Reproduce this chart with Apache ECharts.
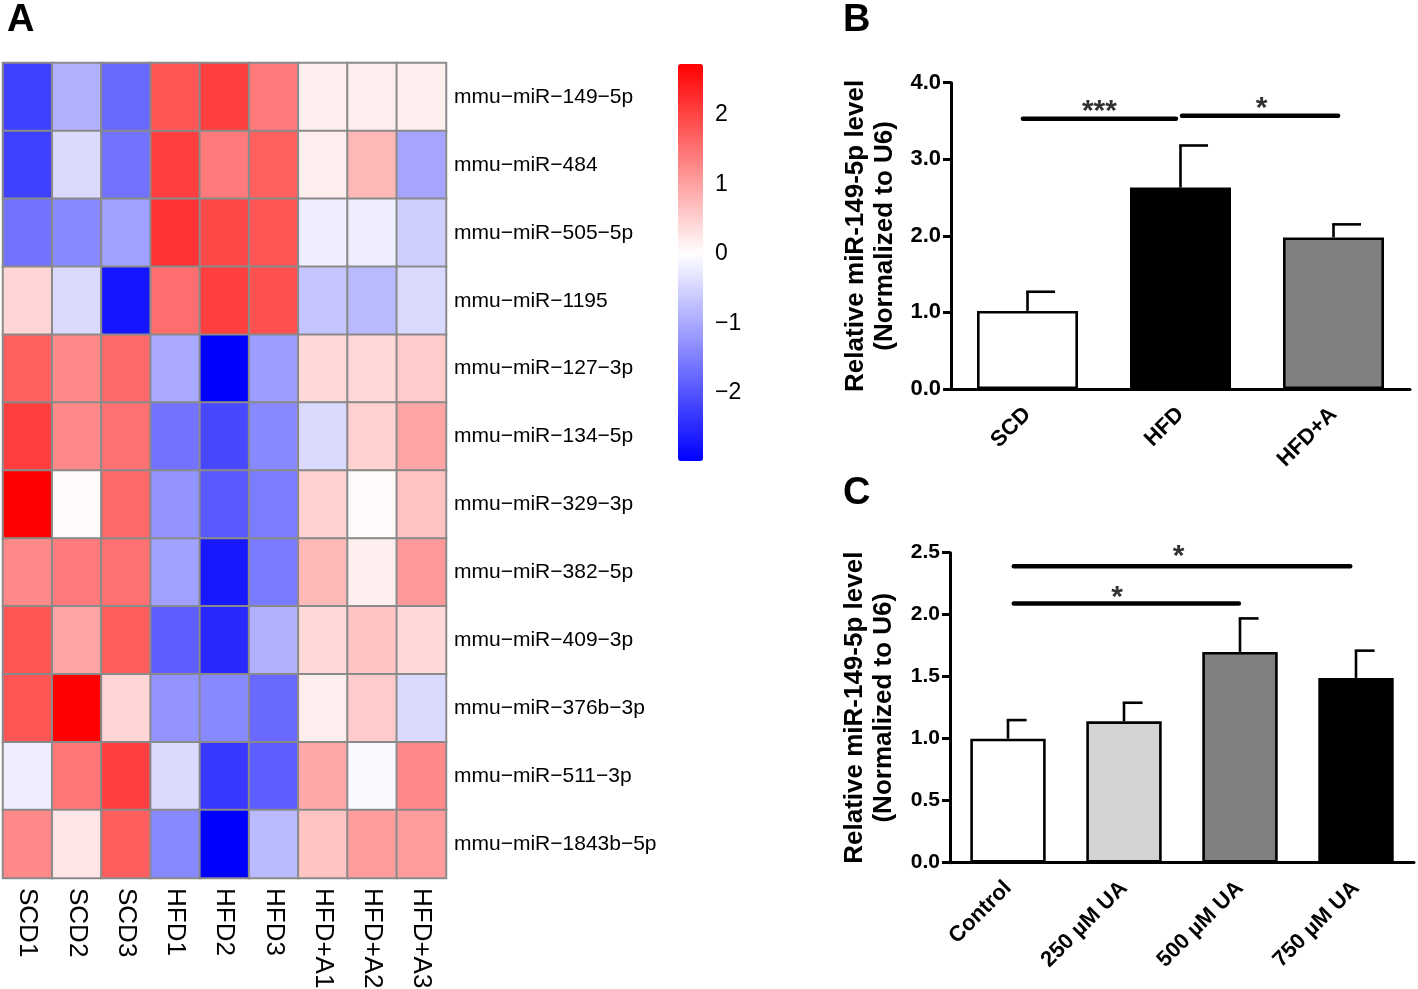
<!DOCTYPE html>
<html>
<head>
<meta charset="utf-8">
<script src="https://cdn.jsdelivr.net/npm/echarts@6/dist/echarts.min.js"></script>
<style>
html,body{margin:0;padding:0;background:#fff;}
#chart{width:1418px;height:989px;}
</style>
</head>
<body>
<div id="chart"></div>
<script>
// ---------- Panel A: heatmap data ----------
const heatCols = ['SCD1','SCD2','SCD3','HFD1','HFD2','HFD3','HFD+A1','HFD+A2','HFD+A3'];
const heatRows = ['mmu\u2212miR\u2212149\u22125p','mmu\u2212miR\u2212484','mmu\u2212miR\u2212505\u22125p','mmu\u2212miR\u22121195',
  'mmu\u2212miR\u2212127\u22123p','mmu\u2212miR\u2212134\u22125p','mmu\u2212miR\u2212329\u22123p','mmu\u2212miR\u2212382\u22125p',
  'mmu\u2212miR\u2212409\u22123p','mmu\u2212miR\u2212376b\u22123p','mmu\u2212miR\u2212511\u22123p','mmu\u2212miR\u22121843b\u22125p'];
const heatValues = [
  [-2.23,-0.92,-1.76, 1.82, 2.05, 1.42, 0.18, 0.18, 0.18],
  [-2.23,-0.43,-1.65, 2.05, 1.42, 1.70, 0.18, 0.76,-1.05],
  [-1.65,-1.39,-1.10, 2.18, 1.96, 1.82,-0.20,-0.20,-0.56],
  [ 0.45,-0.43,-2.73, 1.55, 2.05, 1.87,-0.68,-0.80,-0.43],
  [ 1.70, 1.27, 1.62,-1.01,-2.98,-1.15, 0.42, 0.42, 0.55],
  [ 2.05, 1.27, 1.53,-1.65,-2.14,-1.39,-0.43, 0.49, 0.96],
  [ 2.73, 0.05, 1.62,-1.27,-1.95,-1.53, 0.49, 0.05, 0.65],
  [ 1.27, 1.42, 1.53,-1.10,-2.70,-1.55, 0.76, 0.18, 1.10],
  [ 1.82, 0.96, 1.72,-1.88,-2.51,-0.92, 0.42, 0.63, 0.42],
  [ 1.82, 2.73, 0.45,-1.27,-1.39,-1.76, 0.18, 0.55,-0.43],
  [-0.20, 1.47, 2.05,-0.43,-2.33,-1.88, 0.93,-0.06, 1.27],
  [ 1.27, 0.28, 1.72,-1.39,-2.98,-0.80, 0.65, 1.06, 1.06]
];
const colorMin = -2.98, colorMax = 2.73;
const colorTicks = [-2, -1, 0, 1, 2];

// ---------- Panel B ----------
const bCats = ['SCD', 'HFD', 'HFD+A'];
const bValues = [1.02, 2.63, 1.98];
const bErr = [0.25, 0.55, 0.17];
const bColors = ['#ffffff', '#000000', '#808080'];
const bSigFrom = [-0.03, 1.01];
const bSigTo = [0.97, 2.03];
const bSigY = [3.53, 3.57];
const bSigText = ['***', '*'];
const bSigTextX = [0.47, 1.53];
const bSigTextY = [3.69, 3.73];

// ---------- Panel C ----------
const cCats = ['Control', '250 \u00b5M UA', '500 \u00b5M UA', '750 \u00b5M UA'];
const cValues = [1.00, 1.14, 1.70, 1.49];
const cErr = [0.15, 0.15, 0.27, 0.22];
const cColors = ['#ffffff', '#d3d3d3', '#808080', '#000000'];
const cSigFrom = [0.05, 0.05];
const cSigTo = [2.95, 1.99];
const cSigY = [2.39, 2.09];
const cSigText = ['*', '*'];
const cSigTextX = [1.47, 0.94];
const cSigTextY = [2.51, 2.18];

const FONT = 'Liberation Sans, Arial, Helvetica, sans-serif';

// colour palette for the colour scale (blue - white - red, white at 0)
function buildPalette(n) {
  const out = [];
  for (let i = 0; i < n; i++) {
    const v = colorMin + i * (colorMax - colorMin) / (n - 1);
    let r, g, b;
    if (v >= 0) { const t = v / colorMax; r = 255; g = b = Math.round(255 * (1 - t)); }
    else { const t = v / colorMin; b = 255; r = g = Math.round(255 * (1 - t)); }
    out.push('rgb(' + r + ',' + g + ',' + b + ')');
  }
  return out;
}

const heatData = [];
heatValues.forEach((row, r) => row.forEach((v, c) => heatData.push([c, r, v])));

function errRender(capFrac) {
  return function (params, api) {
    const i = api.value(0);
    const v = api.value(1);
    const e = api.value(2);
    const base = api.coord([i, v]);
    const top = api.coord([i, v + e]);
    const bw = api.size([1, 0])[0];
    return {
      type: 'group',
      children: [
        { type: 'line', shape: { x1: base[0], y1: base[1], x2: top[0], y2: top[1] }, style: { stroke: '#000', lineWidth: 2.6 } },
        { type: 'line', shape: { x1: top[0] - 1.3, y1: top[1], x2: top[0] + capFrac * bw, y2: top[1] }, style: { stroke: '#000', lineWidth: 2.6 } }
      ]
    };
  };
}

function sigRender(from, to, ys, texts, tx, ty, fontSize) {
  return function (params, api) {
    const k = params.dataIndex;
    const c0 = api.coord([0, 0]);
    const bw = api.size([1, 0])[0];
    const px = x => c0[0] + x * bw;
    const y = api.coord([0, ys[k]])[1];
    const yt = api.coord([0, ty[k]])[1];
    return {
      type: 'group',
      children: [
        { type: 'line', shape: { x1: px(from[k]), y1: y, x2: px(to[k]), y2: y }, style: { stroke: '#000', lineWidth: 4.5, lineCap: 'round' } },
        { type: 'text', style: { text: texts[k], x: px(tx[k]), y: yt + 5, align: 'center', verticalAlign: 'middle', fontSize: fontSize, fontWeight: 'bold', fontFamily: FONT, fill: '#333' } }
      ]
    };
  };
}

const axisLineStyle = { color: '#000', width: 3 };
const yTitle = 'Relative miR-149-5p level\n(Normalized to U6)';
const yTitleStyle = { fontSize: 26, fontWeight: 'bold', color: '#000', fontFamily: FONT, lineHeight: 29 };

const chart = echarts.init(document.getElementById('chart'), null, { renderer: 'canvas' });

const option = {
  backgroundColor: '#ffffff',
  animation: false,
  textStyle: { fontFamily: FONT },
  graphic: [
    { type: 'text', left: 7, top: 2, style: { text: 'A', fontSize: 38, fontWeight: 'bold', fontFamily: FONT, fill: '#000' } },
    { type: 'text', left: 843, top: 2, style: { text: 'B', fontSize: 38, fontWeight: 'bold', fontFamily: FONT, fill: '#000' } },
    { type: 'text', left: 843, top: 475, style: { text: 'C', fontSize: 38, fontWeight: 'bold', fontFamily: FONT, fill: '#000' } }
  ],
  visualMap: {
    type: 'continuous',
    min: colorMin,
    max: colorMax,
    seriesIndex: 0,
    calculable: false,
    orient: 'vertical',
    left: 678,
    top: 64,
    itemWidth: 25,
    itemHeight: 397,
    padding: 0,
    text: null,
    showLabel: false,
    hoverLink: false,
    inRange: { color: buildPalette(121) }
  },
  grid: [
    { left: 3, top: 63, width: 443, height: 815, outerBoundsMode: 'none' },
    { left: 951, top: 82.7, width: 459, height: 306.3, outerBoundsMode: 'none' },
    { left: 950, top: 552.7, width: 464, height: 310, outerBoundsMode: 'none' },
    { left: 678, top: 64, width: 25, height: 397, outerBoundsMode: 'none' }
  ],
  xAxis: [
    {
      gridIndex: 0, type: 'category', data: heatCols, position: 'bottom',
      axisLine: { show: false }, axisTick: { show: false }, splitLine: { show: false },
      axisLabel: { rotate: -90, margin: 10, fontSize: 26, color: '#000', fontFamily: FONT, interval: 0 }
    },
    {
      gridIndex: 1, type: 'category', data: bCats,
      axisLine: { lineStyle: axisLineStyle },
      axisTick: { alignWithLabel: true, length: 10, lineStyle: { width: 3, color: '#000' } },
      axisLabel: { rotate: 45, margin: 22, fontSize: 22, fontWeight: 'bold', color: '#000', fontFamily: FONT, interval: 0 }
    },
    {
      gridIndex: 2, type: 'category', data: cCats,
      axisLine: { lineStyle: axisLineStyle },
      axisTick: { alignWithLabel: true, length: 10, lineStyle: { width: 3, color: '#000' } },
      axisLabel: { rotate: 45, margin: 22, fontSize: 22, fontWeight: 'bold', color: '#000', fontFamily: FONT, interval: 0 }
    },
    { gridIndex: 3, type: 'value', show: false, min: 0, max: 1 }
  ],
  yAxis: [
    {
      gridIndex: 0, type: 'category', data: heatRows, position: 'right', inverse: true,
      axisLine: { show: false }, axisTick: { show: false }, splitLine: { show: false },
      axisLabel: { margin: 8, fontSize: 21, color: '#000', fontFamily: FONT, interval: 0 }
    },
    {
      gridIndex: 1, type: 'value', min: 0, max: 4, interval: 1,
      name: yTitle, nameLocation: 'middle', nameGap: 52,
      nameTextStyle: yTitleStyle,
      axisLine: { show: true, lineStyle: axisLineStyle },
      axisTick: { show: true, length: 8, lineStyle: { width: 3, color: '#000' } },
      splitLine: { show: false },
      axisLabel: { margin: 10, fontSize: 22, fontWeight: 'bold', color: '#000', fontFamily: FONT, formatter: v => v.toFixed(1) }
    },
    {
      gridIndex: 2, type: 'value', min: 0, max: 2.5, interval: 0.5,
      name: yTitle, nameLocation: 'middle', nameGap: 52,
      nameTextStyle: yTitleStyle,
      axisLine: { show: true, lineStyle: axisLineStyle },
      axisTick: { show: true, length: 8, lineStyle: { width: 3, color: '#000' } },
      splitLine: { show: false },
      axisLabel: { margin: 10, fontSize: 21, fontWeight: 'bold', color: '#000', fontFamily: FONT, formatter: v => v.toFixed(1) }
    },
    {
      gridIndex: 3, type: 'value', min: colorMin, max: colorMax, position: 'right',
      axisLine: { show: false }, axisTick: { show: false }, splitLine: { show: false },
      axisLabel: { margin: 12, fontSize: 23, color: '#000', fontFamily: FONT, customValues: colorTicks,
        formatter: v => (v < 0 ? '\u2212' + Math.abs(v) : String(v)) }
    }
  ],
  series: [
    {
      type: 'heatmap', xAxisIndex: 0, yAxisIndex: 0, data: heatData,
      itemStyle: { borderColor: '#8a8a8a', borderWidth: 2 },
      emphasis: { disabled: true }
    },
    {
      type: 'bar', xAxisIndex: 1, yAxisIndex: 1, barWidth: '66%',
      data: bValues.map((v, i) => ({ value: v, itemStyle: { color: bColors[i] } })),
      itemStyle: { borderColor: '#000', borderWidth: 2.6 }
    },
    {
      type: 'custom', xAxisIndex: 1, yAxisIndex: 1, z: 5,
      data: bValues.map((v, i) => [i, v, bErr[i]]),
      encode: { x: 0, y: 1 },
      renderItem: errRender(0.18)
    },
    {
      type: 'custom', xAxisIndex: 1, yAxisIndex: 1, z: 6,
      data: bSigY.map(y => [0, y]),
      encode: { x: 0, y: 1 },
      renderItem: sigRender(bSigFrom, bSigTo, bSigY, bSigText, bSigTextX, bSigTextY, 30)
    },
    {
      type: 'bar', xAxisIndex: 2, yAxisIndex: 2, barWidth: '65%',
      data: cValues.map((v, i) => ({ value: v, itemStyle: { color: cColors[i] } })),
      itemStyle: { borderColor: '#000', borderWidth: 2.6 }
    },
    {
      type: 'custom', xAxisIndex: 2, yAxisIndex: 2, z: 5,
      data: cValues.map((v, i) => [i, v, cErr[i]]),
      encode: { x: 0, y: 1 },
      renderItem: errRender(0.16)
    },
    {
      type: 'custom', xAxisIndex: 2, yAxisIndex: 2, z: 6,
      data: cSigY.map(y => [0, y]),
      encode: { x: 0, y: 1 },
      renderItem: sigRender(cSigFrom, cSigTo, cSigY, cSigText, cSigTextX, cSigTextY, 30)
    },
    { type: 'scatter', xAxisIndex: 3, yAxisIndex: 3, data: [], silent: true }
  ]
};

chart.setOption(option);
</script>
</body>
</html>
